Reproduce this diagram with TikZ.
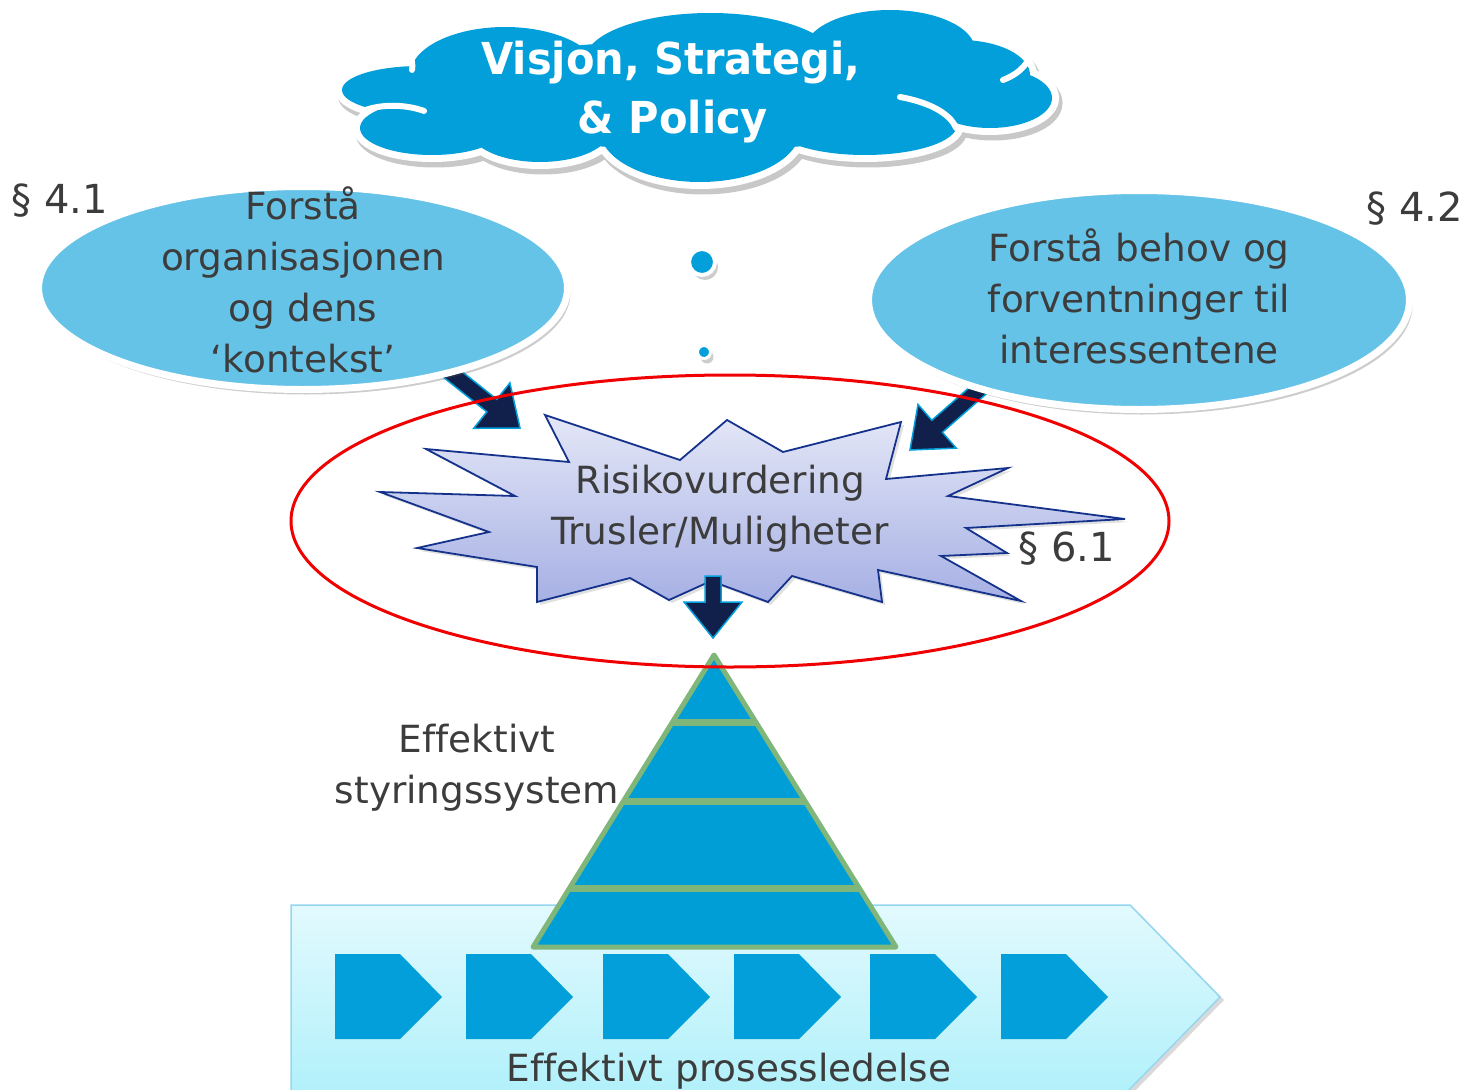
\documentclass[tikz,border=0pt]{standalone}
\usepackage{fontspec}
\setmainfont{DejaVu Sans}[Ligatures=CommonOff]
\newfontfamily\cloudfont[FakeStretch=0.945]{DejaVu Sans}
\usetikzlibrary{shapes.geometric,shadows,calc}
\definecolor{cloudblue}{RGB}{2,159,218}
\definecolor{ellblue}{RGB}{102,195,232}
\definecolor{textgray}{RGB}{60,60,60}
\definecolor{navy}{RGB}{16,32,74}
\definecolor{arrowline}{RGB}{0,160,220}
\definecolor{starline}{RGB}{20,50,140}
\definecolor{startop}{RGB}{228,231,247}
\definecolor{starbot}{RGB}{166,176,228}
\definecolor{pyrblue}{RGB}{0,158,215}
\definecolor{pyrgreen}{RGB}{128,182,122}
\definecolor{bandtop}{RGB}{226,250,254}
\definecolor{bandbot}{RGB}{176,240,250}
\definecolor{bandline}{RGB}{150,215,240}
\definecolor{redline}{RGB}{240,0,0}
\definecolor{shadowgray}{RGB}{200,200,200}
\newcommand\bodysize{\fontsize{37.4}{51}\selectfont}
\newcommand\clausesize{\fontsize{40}{51}\selectfont}
\newcommand\blkarrow[3]{%
  \coordinate (#3h) at ($(#2)!36pt!(#1)$);
  \filldraw[blockarrow] ($(#1)!8pt!90:(#2)$) -- ($(#3h)!8pt!90:(#2)$) -- ($(#3h)!29pt!90:(#2)$) -- (#2)
    -- ($(#3h)!29pt!-90:(#2)$) -- ($(#3h)!8pt!-90:(#2)$) -- ($(#1)!8pt!-90:(#2)$) -- cycle;}
\newcommand\cloudlobes{%
  (420,90) ellipse [x radius=78pt,y radius=24pt]
  (505,75) ellipse [x radius=95pt,y radius=48pt]
  (432,128) ellipse [x radius=72pt,y radius=27pt]
  (540,130) ellipse [x radius=70pt,y radius=32pt]
  (710,60) ellipse [x radius=125pt,y radius=47pt]
  (890,50) ellipse [x radius=85pt,y radius=40pt]
  (960,75) ellipse [x radius=70pt,y radius=35pt]
  (990,98) ellipse [x radius=62pt,y radius=30pt]
  (865,125) ellipse [x radius=92pt,y radius=30pt]
  (700,130) ellipse [x radius=100pt,y radius=52pt]
  (700,95) ellipse [x radius=280pt,y radius=55pt]}
\begin{document}
\begin{tikzpicture}[x=1pt,y=-1pt,
  softshadow/.style={drop shadow={shadow xshift=3pt,shadow yshift=-5pt,opacity=0.28,fill=black!70}},
  bubble/.style={ellipse,fill=ellblue,draw=white,line width=7pt,inner sep=0pt,softshadow},
  label/.style={text=textgray,align=center,font=\bodysize,inner sep=0pt},
  clause/.style={text=textgray,font=\clausesize,inner sep=0pt},
  cloudtext/.style={text=white,inner sep=0pt,anchor=base,font=\cloudfont\bfseries\fontsize{44}{58}\selectfont},
  blockarrow/.style={fill=navy,draw=arrowline,line width=1.5pt,line join=miter},
  chev/.style={fill=cloudblue},
  wrinkle/.style={draw=white,line width=6pt,line cap=round},
  tail/.style={circle,fill=cloudblue,draw=white,inner sep=0pt,softshadow}]
\useasboundingbox (0,0) rectangle (1474,1089);

% process band
\shade[top color=bandtop,bottom color=bandbot,draw=bandline,line width=1.5pt,
  drop shadow={shadow xshift=4pt,shadow yshift=-3pt,opacity=0.25,fill=black!60}]
  (291,905) -- (1130,905) -- (1220,997) -- (1122,1097) -- (291,1097) -- cycle;
\foreach \x in {335,466,603,734,870,1001}
  \fill[chev] (\x,954) -- ++(65,0) -- ++(42,43) -- ++(-42,42) -- ++(-65,0) -- cycle;
\node[label] (proc) at (729,1071) {Effektivt prosessledelse};

% pyramid
\coordinate (apex) at (714,655);
\coordinate (bl) at (533,947);
\coordinate (br) at (896,947);
\fill[pyrblue] (apex) -- (br) -- (bl) -- cycle;
\begin{scope}
  \clip (apex) -- (br) -- (bl) -- cycle;
  \foreach \y in {722,801,888}
    \draw[pyrgreen,line width=7pt] (500,\y) -- (930,\y);
\end{scope}
\draw[pyrgreen,line width=5pt,line join=round] (apex) -- (br) -- (bl) -- cycle;
\node[label] (mgmt) at (477,768) {Effektivt\\styringssystem};

% cloud
\begin{scope}[shift={(3,5)}]
  \filldraw[fill=shadowgray,draw=shadowgray,line width=15pt] \cloudlobes;
\end{scope}
\draw[white,line width=14pt] \cloudlobes;
\fill[cloudblue] \cloudlobes;
\coordinate (vision) at (695,95);
\path[wrinkle] (363,111) .. controls (380,104) and (405,104) .. (424,111);
\path[wrinkle] (900,97) .. controls (928,102) and (950,113) .. (956,128);
\path[wrinkle] (1003,80) .. controls (1016,75) and (1026,67) .. (1030,56);
\path[wrinkle] (408,52) .. controls (412,58) and (413,64) .. (412,70);
\node[cloudtext] (visiontext1) at (671,75) {Visjon, Strategi,};
\node[cloudtext] (visiontext2) at (673,133) {\& Policy};
\node[tail,minimum size=26pt,line width=4pt] (tail1) at (702,262) {};
\node[tail,minimum size=13pt,line width=3pt] (tail2) at (704,352) {};

% arrows into risk assessment
\coordinate (orgout) at (432,358);
\coordinate (riskinL) at (520,428);
\coordinate (stakeout) at (990,380);
\coordinate (riskinR) at (910,450);
\coordinate (riskout) at (713,576);
\coordinate (pyrin) at (713,638);
\blkarrow{orgout}{riskinL}{al}
\blkarrow{stakeout}{riskinR}{ar}

% context bubbles
\node[bubble,minimum width=529pt,minimum height=203pt] (org) at (303,288) {};
\node[label] (orgtext) at (303,280) {Forstå\\organisasjonen\\og dens\\‘kontekst’};
\node[bubble,minimum width=541pt,minimum height=219pt] (stake) at (1139,300) {};
\node[label] (staketext) at (1139,296) {Forstå behov og\\forventninger til\\interessentene};

% star
\path[draw=starline,line width=1.8pt,line join=miter,top color=startop,bottom color=starbot,
  drop shadow={shadow xshift=3pt,shadow yshift=-3pt,opacity=0.2,fill=black!60}]
  (545,415) -- (569,462) -- (426,449) -- (515,496) -- (380,492) -- (489,532) -- (417,548)
  -- (537,567) -- (537,602) -- (630,578) -- (669,600) -- (711,581) -- (768,602) -- (792,576)
  -- (882,602) -- (878,570) -- (1021,601) -- (941,556) -- (1007,553) -- (966,528)
  -- (1125,519) -- (948,496) -- (1008,468) -- (886,479) -- (901,422) -- (783,452)
  -- (727,420) -- (680,460) -- cycle;
\node[label] (risk) at (720,509) {Risikovurdering\\Trusler/Muligheter};
\blkarrow{riskout}{pyrin}{ad}

% red scope ellipse
\node[ellipse,draw=redline,line width=3pt,minimum width=878pt,minimum height=292pt,inner sep=0pt]
  (riskzone) at (730,521) {};

% clause labels
\node[clause] (c41) at (60,201) {§ 4.1};
\node[clause] (c42) at (1415,209) {§ 4.2};
\node[clause] (c61) at (1067,549) {§ 6.1};
\end{tikzpicture}
\end{document}
